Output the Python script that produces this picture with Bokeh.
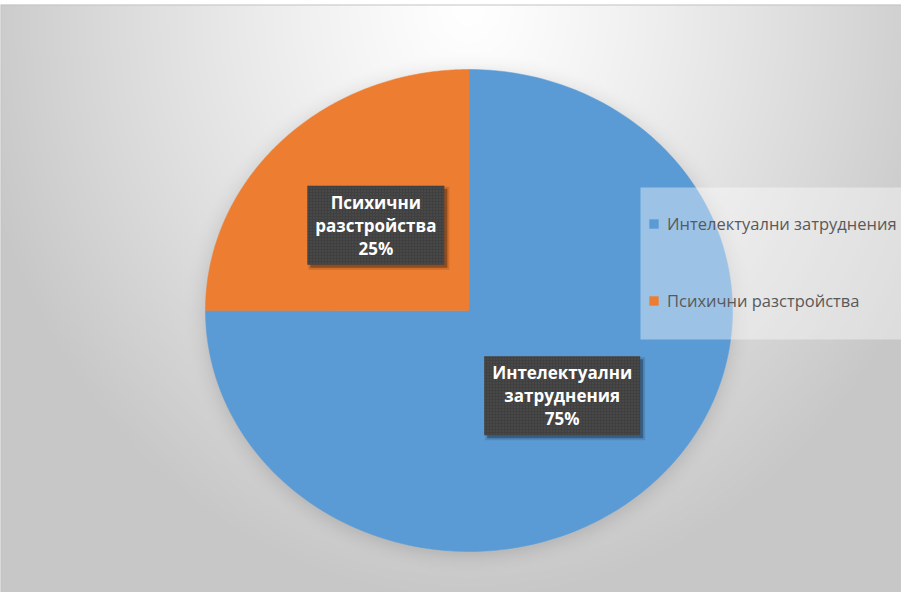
import numpy as np
from bokeh.plotting import figure
from bokeh.models import ColumnDataSource, Range1d, Legend, LegendItem, BoxAnnotation, Span
from bokeh.core.properties import value
from bokeh.embed import file_html
from bokeh.resources import INLINE

# ---- data ----
categories = ["Интелектуални затруднения", "Психични разстройства"]
values = [75, 25]
colors = ["#5B9BD5", "#ED7D31"]

# ---- layout (pixels) ----
W, H = 901, 592
TOP = 4
FW, FH = W, H - TOP
CX, CY = 468.5, 306.0     # pie centre inside the frame (px from left / top)
RX, RY = 263.5, 241.0     # pie radii in px (chart is slightly stretched)

x0, x1 = -CX / RX, (FW - CX) / RX
y0, y1 = -(FH - CY) / RY, CY / RY

p = figure(width=W, height=H, output_backend="svg", toolbar_location=None,
           x_range=Range1d(x0, x1), y_range=Range1d(y0, y1),
           x_axis_location=None, y_axis_location=None,
           min_border_top=TOP, min_border_left=0, min_border_right=0, min_border_bottom=0,
           border_fill_color="white", outline_line_color=None)
p.grid.visible = False

# ---- radial gradient background with a soft halo around the pie ----
nx, ny = (FW + 1) // 2, FH // 2
gx, gy = np.meshgrid(np.linspace(0, FW, nx), np.linspace(FH, 0, ny))
dx = gx + 8 - 477
dy = gy + 12 - 13
t = np.sqrt((dx / 510.0) ** 2 + (dy / 600.0) ** 2)
shade = 255 - 56 * np.clip(t, 0, 1) ** 1.2
rho = np.sqrt(((gx - CX) / RX) ** 2 + ((gy - CY - 3) / RY) ** 2)
halo = np.clip(1 - (rho - 1) / 0.09, 0, 1) ** 2
shade = shade - 18 * halo
img = np.empty((ny, nx), dtype=np.uint32)
view = img.view(dtype=np.uint8).reshape((ny, nx, 4))
sh = np.clip(shade, 0, 255).astype(np.uint8)
view[..., 0] = sh
view[..., 1] = sh
view[..., 2] = sh
view[..., 3] = 255
p.image_rgba(image=[img], x=x0, y=y0, dw=x1 - x0, dh=y1 - y0)

# chart-area border (top and left edges visible in the reference)
p.add_layout(Span(location=y1, dimension="width", line_color="#c3c3c3", line_width=2))
p.add_layout(Span(location=x0, dimension="height", line_color="#c3c3c3", line_width=2))

# ---- pie slices (start at 12 o'clock, clockwise) ----
total = float(sum(values))
cum = np.cumsum([0] + values)
xs_list, ys_list = [], []
for i in range(len(values)):
    a0 = np.pi / 2 - 2 * np.pi * cum[i] / total
    a1 = np.pi / 2 - 2 * np.pi * cum[i + 1] / total
    th = np.linspace(a0, a1, 240)
    xs_list.append([0.0] + list(np.cos(th)) + [0.0])
    ys_list.append([0.0] + list(np.sin(th)) + [0.0])
src = ColumnDataSource(dict(xs=xs_list, ys=ys_list, color=colors, label=categories))
pie = p.patches("xs", "ys", source=src, fill_color="color", line_color="color", line_width=0.5)

# ---- data labels ----
mid = np.pi / 2 - 2 * np.pi * (cum[:-1] + np.array(values) / 2.0) / total
lx = 0.5 * np.cos(mid)
ly = 0.5 * np.sin(mid)
texts = [c.replace(" ", "\n") + f"\n{round(100 * v / total)}%" for c, v in zip(categories, values)]
box_w = [156, 137]
box_h = [79, 79]

lab = ColumnDataSource(dict(x=lx, y=ly, sx=lx + 3 / RX, sy=ly - 3 / RY,
                            text=texts, w=box_w, h=box_h,
                            w2=[b + 4 for b in box_w], h2=[b + 4 for b in box_h]))
p.rect("sx", "sy", width="w2", height="h2", width_units="screen", height_units="screen",
       source=lab, fill_color="black", fill_alpha=0.12, line_color=None)
p.rect("sx", "sy", width="w", height="h", width_units="screen", height_units="screen",
       source=lab, fill_color="black", fill_alpha=0.3, line_color=None)
p.rect("x", "y", width="w", height="h", width_units="screen", height_units="screen",
       source=lab, fill_color="#404040", line_color=None,
       hatch_pattern=".", hatch_color="#5e5e5e", hatch_scale=3, hatch_alpha=0.6)
p.text("x", "y", text="text", source=lab, text_color="white",
       text_font=value("Open Sans"), text_font_style="bold", text_font_size="17px",
       text_align="center", text_baseline="middle", text_line_height=1.0)

# ---- legend ----
legend_bg = BoxAnnotation(left=(640 - CX) / RX, right=x1,
                          top=(CY - 183) / RY, bottom=(CY - 335) / RY,
                          fill_color="white", fill_alpha=0.4, line_color=None)
p.add_layout(legend_bg)

legend = Legend(items=[LegendItem(label=categories[i], renderers=[pie], index=i)
                       for i in range(len(categories))],
                location=(648, 264), orientation="vertical",
                background_fill_alpha=0.0, border_line_color=None,
                padding=0, margin=0, spacing=21,
                label_height=56, glyph_width=11, glyph_height=11, label_standoff=8,
                label_text_font="Open Sans", label_text_font_size="16.5px",
                label_text_color="#595959")
p.add_layout(legend, "center")

open("out.html", "w").write(file_html(p, INLINE))
